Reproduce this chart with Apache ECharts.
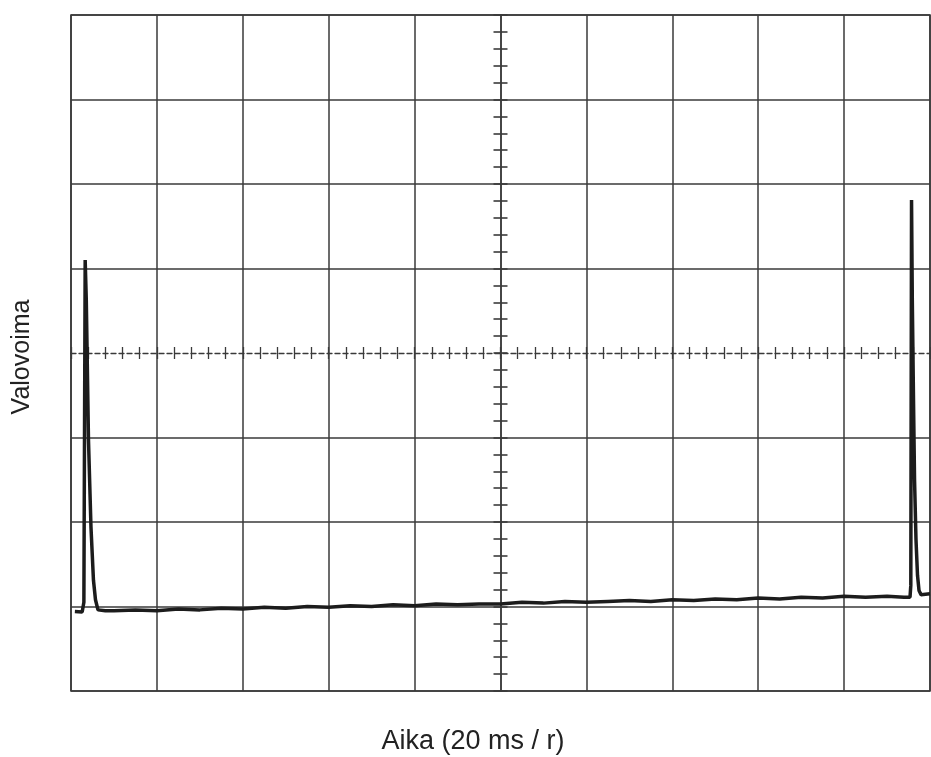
<!DOCTYPE html>
<html>
<head>
<meta charset="utf-8">
<script src="https://cdn.jsdelivr.net/npm/echarts@6/dist/echarts.min.js"></script>
<style>
  html, body { margin: 0; padding: 0; background: #ffffff; }
  #chart { width: 931px; height: 757px; }
</style>
</head>
<body>
<div id="chart"></div>
<script>
// Time axis in ms relative to screen centre (20 ms per division), intensity in divisions
const xTitle = 'Aika (20 ms / r)';
const yTitle = 'Valovoima';

const peak1Time = [-99.1, -97.4, -97.0, -96.7, -96.44, -95.93, -95.35, -94.77, -94.3, -93.72];
const peak1Value = [-3.06, -3.065, -2.95, 1.10, 0.63, -1.03, -2.06, -2.69, -2.92, -3.04];

const baseTime = [-92, -90, -85, -80, -75, -70, -65, -60, -55, -50, -45, -40, -35, -30, -25, -20, -15, -10, -5, 0,
                  5, 10, 15, 20, 25, 30, 35, 40, 45, 50, 55, 60, 65, 70, 75, 80, 85, 90];
const baseValue = [-3.05, -3.05, -3.04, -3.05, -3.03, -3.04, -3.02, -3.03, -3.01, -3.02, -3.00, -3.01, -2.99, -3.00, -2.98, -2.99, -2.97, -2.98, -2.97, -2.97,
                   -2.95, -2.96, -2.94, -2.95, -2.94, -2.93, -2.94, -2.92, -2.93, -2.91, -2.92, -2.90, -2.91, -2.89, -2.90, -2.88, -2.89, -2.88];

const peak2Time = [93.95, 95.35, 95.53, 95.70, 95.88, 96.16, 96.40, 96.74, 97.09, 97.44, 97.91, 100];
const peak2Value = [-2.89, -2.89, -2.75, 1.81, 0.63, -0.56, -1.50, -2.21, -2.63, -2.81, -2.86, -2.85];

const xMin = -100, xMax = 100, xStep = 20;
const yMin = -4, yMax = 4, yStep = 1;

const allTime = peak1Time.concat(baseTime, peak2Time);
const allValue = peak1Value.concat(baseValue, peak2Value);
const traceData = allTime.map((t, i) => [t, allValue[i]]);

const gridColor = '#3a3a3a';
// hide solid split line at the centre row (drawn dashed by the centre axis instead)
const ySplitColors = [];
for (let v = yMin; v <= yMax; v += yStep) ySplitColors.push(v === 0 ? 'rgba(0,0,0,0)' : gridColor);

const chart = echarts.init(document.getElementById('chart'), null, { renderer: 'canvas' });

const hidden = { show: false };
function centreX(position, showLine) {
  return {
    type: 'value', position: position, min: xMin, max: xMax, interval: xStep,
    axisLine: { show: showLine, onZero: true, onZeroAxisIndex: 0,
      lineStyle: { color: gridColor, width: 1.3, type: [5, 3] } },
    axisTick: { show: true, length: 6, lineStyle: { color: gridColor, width: 1.3 } },
    minorTick: { show: true, splitNumber: 5, length: 6, lineStyle: { color: gridColor, width: 1.3 } },
    axisLabel: hidden, splitLine: hidden, minorSplitLine: hidden
  };
}
function centreY(position, showLine) {
  return {
    type: 'value', position: position, min: yMin, max: yMax, interval: yStep,
    axisLine: { show: showLine, onZero: true, onZeroAxisIndex: 0,
      lineStyle: { color: gridColor, width: 1.5 } },
    axisTick: { show: true, length: 7, lineStyle: { color: gridColor, width: 1.6 } },
    minorTick: { show: true, splitNumber: 5, length: 7, lineStyle: { color: gridColor, width: 1.6 } },
    axisLabel: hidden, splitLine: hidden, minorSplitLine: hidden
  };
}

chart.setOption({
  backgroundColor: '#ffffff',
  animation: false,
  grid: { left: 71, right: 1, top: 15, bottom: 66, show: true,
          borderColor: gridColor, borderWidth: 1.6, backgroundColor: 'transparent' },
  xAxis: [
    { type: 'value', position: 'bottom', min: xMin, max: xMax, interval: xStep,
      axisLine: { show: false, onZero: false }, axisTick: hidden, axisLabel: hidden,
      splitLine: { show: true, lineStyle: { color: gridColor, width: 1.5 } } },
    centreX('bottom', true),
    centreX('top', false)
  ],
  yAxis: [
    { type: 'value', position: 'left', min: yMin, max: yMax, interval: yStep,
      axisLine: { show: false, onZero: false }, axisTick: hidden, axisLabel: hidden,
      splitLine: { show: true, lineStyle: { color: ySplitColors, width: 1.5 } } },
    centreY('left', true),
    centreY('right', false)
  ],
  graphic: [
    { type: 'text', x: 473, y: 742,
      style: { text: xTitle, font: '27px "Liberation Sans", Arial, sans-serif', fill: '#222',
               textAlign: 'center', textVerticalAlign: 'middle' } },
    { type: 'text', x: 22, y: 357, rotation: Math.PI / 2,
      style: { text: yTitle, font: '25px "Liberation Sans", Arial, sans-serif', fill: '#222',
               textAlign: 'center', textVerticalAlign: 'middle' } }
  ],
  series: [{
    type: 'line', xAxisIndex: 0, yAxisIndex: 0,
    data: traceData, showSymbol: false, smooth: false,
    lineStyle: { color: '#1c1c1c', width: 3.5 },
    z: 5
  }]
});
</script>
</body>
</html>
